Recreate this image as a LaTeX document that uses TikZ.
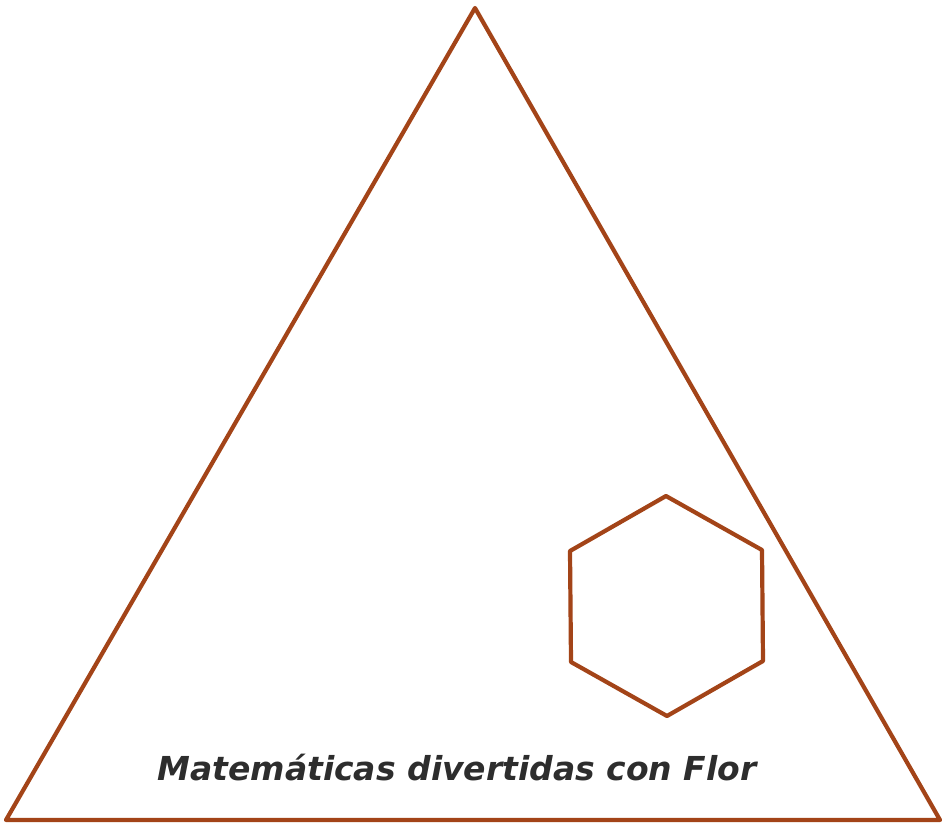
\documentclass[tikz,border=0pt]{standalone}
\usepackage{fontspec}
\usepackage{xcolor}
\usepackage{tikz}
\usetikzlibrary{calc}
\newfontfamily\titlefont{DejaVu Sans}
\definecolor{rust}{RGB}{163,68,24}
\definecolor{inkgray}{RGB}{45,45,45}
\tikzset{edge/.style={draw=rust, line width=4.2pt, line join=round},
         title/.style={font=\titlefont\bfseries\itshape\fontsize{33}{36}\selectfont, inner sep=0pt}}

\begin{document}
\begin{tikzpicture}[x=1pt, y=-1pt]
    \useasboundingbox (0,0) rectangle (942,825);
        % big triangle
        \coordinate (top) at (475,8);
        \coordinate (left) at (6,820);
        \coordinate (right) at (940,820);
        \draw[edge] (top) -- (right) -- (left) -- cycle;

        % hexagon
        \draw[edge] (666,496) -- (762,550) -- (763,661) -- (667,716) -- (571,662) -- (570,551) -- cycle;

        % title
        \node[title, text=inkgray] (label) at (457,768) {Matemáticas divertidas con Flor};
    \end{tikzpicture}
\end{document}
